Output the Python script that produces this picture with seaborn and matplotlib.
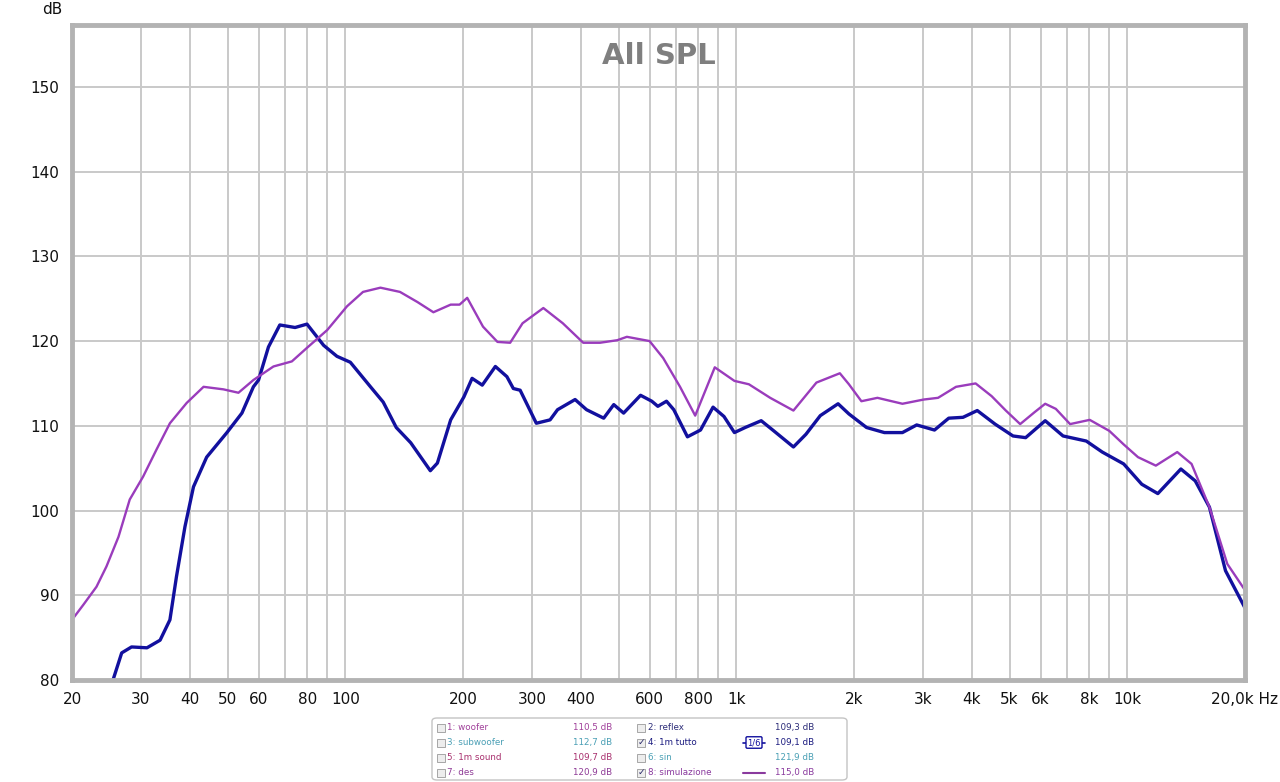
import numpy as np
import pandas as pd
import matplotlib.pyplot as plt
import seaborn as sns
from matplotlib.patches import FancyBboxPatch, Rectangle
from matplotlib.lines import Line2D

sns.set_theme(style="white")
plt.rcParams['font.family'] = ['DejaVu Sans']

# 8: simulazione (purple)
sim_freq = [20, 21.4, 23.1, 24.5, 26.3, 28.1, 30.4, 32.9, 35.6, 39.3, 43.4, 48.8, 53.3, 58.2,
            65.5, 73.0, 79.8, 89.9, 101, 111, 123, 138, 153, 168, 186, 196, 205, 225, 245,
            264, 284, 321, 360, 406, 448, 496, 525, 600, 650, 718, 785, 881, 989, 1077, 1221,
            1400, 1603, 1840, 1941, 2089, 2296, 2660, 3016, 3281, 3647, 4093, 4498, 4890,
            5321, 5790, 6166, 6564, 7140, 8015, 8995, 9790, 10650, 11830, 13420, 14600,
            16220, 18020, 20000]
sim_db = [87.1, 88.9, 91.0, 93.4, 96.9, 101.3, 104.0, 107.2, 110.3, 112.7, 114.6, 114.3, 113.9,
          115.4, 117.0, 117.6, 119.2, 121.3, 124.1, 125.8, 126.3, 125.8, 124.6, 123.4, 124.3,
          124.3, 125.1, 121.7, 119.9, 119.8, 122.1, 123.9, 122.1, 119.8, 119.8, 120.1, 120.5,
          120.0, 118.0, 114.6, 111.2, 116.9, 115.3, 114.9, 113.3, 111.8, 115.1, 116.2, 114.9,
          112.9, 113.3, 112.6, 113.1, 113.3, 114.6, 115.0, 113.5, 111.8, 110.2, 111.6, 112.6,
          112.0, 110.2, 110.7, 109.4, 107.8, 106.3, 105.3, 106.9, 105.5, 100.4, 93.7, 90.6]

# 4: 1m tutto (blue)
tutto_freq = [25.3, 26.8, 28.4, 31.1, 33.6, 35.6, 37.0, 38.9, 40.9, 44.2, 49.8, 54.4, 58.2, 60,
              63.6, 68.0, 74.4, 79.8, 88.0, 95.2, 103, 116, 125, 135, 147, 165, 172, 186, 201,
              211, 224, 242, 259, 269, 280, 308, 334, 349, 387, 414, 458, 486, 515, 569, 608,
              630, 663, 692, 750, 810, 872, 930, 989, 1054, 1158, 1247, 1400, 1507, 1640, 1821,
              1941, 2153, 2392, 2660, 2893, 3213, 3494, 3800, 4133, 4590, 5101, 5496, 6166,
              6850, 7854, 8630, 9790, 10890, 11970, 13710, 14920, 16220, 17830, 20000]
tutto_db = [79.6, 83.2, 83.9, 83.8, 84.7, 87.1, 92.2, 98.1, 102.8, 106.3, 109.2, 111.5, 114.6,
            115.4, 119.3, 121.9, 121.6, 122.0, 119.5, 118.2, 117.5, 114.6, 112.8, 109.8, 108.0,
            104.7, 105.6, 110.7, 113.4, 115.6, 114.8, 117.0, 115.8, 114.4, 114.2, 110.3, 110.7,
            111.9, 113.1, 111.9, 110.9, 112.5, 111.5, 113.6, 112.9, 112.3, 112.9, 111.9, 108.7,
            109.5, 112.2, 111.1, 109.2, 109.8, 110.6, 109.4, 107.5, 109.0, 111.2, 112.6, 111.4,
            109.8, 109.2, 109.2, 110.1, 109.5, 110.9, 111.0, 111.8, 110.2, 108.8, 108.6, 110.6,
            108.8, 108.2, 106.9, 105.5, 103.1, 102.0, 104.9, 103.5, 100.4, 92.9, 88.5]

xtick_vals = [20, 30, 40, 50, 60, 80, 100, 200, 300, 400, 600, 800, 1000, 2000, 3000, 4000,
              5000, 6000, 8000, 10000]
xtick_labels = ['20', '30', '40', '50', '60', '80', '100', '200', '300', '400', '600', '800',
                '1k', '2k', '3k', '4k', '5k', '6k', '8k', '10k']
ytick_vals = [80, 90, 100, 110, 120, 130, 140, 150]

# measurement list under the chart
legend_names = ['1: woofer', '2: reflex', '3: subwoofer', '4: 1m tutto',
                '5: 1m sound', '6: sin', '7: des', '8: simulazione']
legend_values = ['110,5 dB', '109,3 dB', '112,7 dB', '109,1 dB',
                 '109,7 dB', '121,9 dB', '120,9 dB', '115,0 dB']
legend_checked = [False, False, False, True, False, False, False, True]
legend_colors = ['#a0409a', '#2c2c78', '#4a9fb5', '#1c1c80',
                 '#a8306e', '#4aa0b5', '#8e3a96', '#8a3a9e']

fig = plt.figure(figsize=(12.8, 7.82), dpi=100)
ax = fig.add_axes([72 / 1280, 1 - 680 / 782, (1245 - 72) / 1280, (680 - 25) / 782])

ax.set_xscale('log')
ax.set_xlim(20, 20000)
ax.set_ylim(80, 157.3)

# grid: every 1..9 multiple on x, every 10 dB on y
grid_x = [m * 10 ** e for e in range(1, 5) for m in range(1, 10)]
for gx in grid_x:
    if 20 < gx < 20000:
        ax.axvline(gx, color='#c9c9c9', lw=1.4, zorder=0)
for gy in ytick_vals:
    ax.axhline(gy, color='#c9c9c9', lw=1.4, zorder=0)

sns.lineplot(x=tutto_freq, y=tutto_db, ax=ax, color='#12109e', lw=2.4, sort=False,
             estimator=None)
sns.lineplot(x=sim_freq, y=sim_db, ax=ax, color='#9a3cbc', lw=1.7, sort=False,
             estimator=None)

ax.xaxis.set_minor_locator(plt.NullLocator())
ax.set_xticks(xtick_vals)
ax.set_xticklabels(xtick_labels, fontsize=11)
ax.set_yticks(ytick_vals)
ax.set_yticklabels([str(v) for v in ytick_vals], fontsize=11)
ax.tick_params(axis='both', length=0, pad=9, colors='#111111')

for side in ['left', 'right', 'top', 'bottom']:
    ax.spines[side].set_color('#b3b3b3')
    ax.spines[side].set_linewidth(3.5)

ax.text(0.5, 0.953, 'All SPL', transform=ax.transAxes, ha='center', va='center',
        fontsize=21, fontweight='bold', color='#7f7f7f')

fig.text(62 / 1280, 1 - 10 / 782, 'dB', ha='right', va='center', fontsize=11, color='#111111')
fig.text(1278 / 1280, 1 - 700 / 782, '20,0k Hz', ha='right', va='center', fontsize=11,
         color='#111111')

# legend box (pixel coordinates -> figure fraction)
def fx(px):
    return px / 1280

def fy(py):
    return 1 - py / 782

box = FancyBboxPatch((fx(432), fy(780)), fx(847) - fx(432), fy(718) - fy(780),
                     boxstyle='round,pad=0,rounding_size=0.004', transform=fig.transFigure,
                     facecolor='white', edgecolor='#c4c4c4', lw=1.0)
fig.patches.append(box)

row_y = [727.5, 742.5, 757.5, 772.5]
col_check = [437, 637]
col_name = [447, 648]
col_value = [612, 814]
for i, name in enumerate(legend_names):
    row = i // 2
    col = i % 2
    y = row_y[row]
    c = legend_colors[i]
    fig.patches.append(Rectangle((fx(col_check[col]), fy(y + 4)), fx(8), 8 / 782,
                                 transform=fig.transFigure, facecolor='#ededed',
                                 edgecolor='#9a9a9a', lw=0.6))
    if legend_checked[i]:
        fig.text(fx(col_check[col] + 4), fy(y), '\u2713', ha='center', va='center',
                 fontsize=6.5, color='#2a2a6a')
    fig.text(fx(col_name[col]), fy(y), name, ha='left', va='center', fontsize=6.3, color=c)
    fig.text(fx(col_value[col]), fy(y), legend_values[i], ha='right', va='center',
             fontsize=6.3, color=c)

# line style symbols for the shown curves
fig.lines.append(Line2D([fx(743), fx(748)], [fy(742.5), fy(742.5)], transform=fig.transFigure,
                        color='#12109e', lw=1.2))
fig.lines.append(Line2D([fx(760), fx(765)], [fy(742.5), fy(742.5)], transform=fig.transFigure,
                        color='#12109e', lw=1.2))
fig.text(fx(754), fy(742.5), '1/6', ha='center', va='center', fontsize=6, color='#12109e',
         bbox=dict(boxstyle='round,pad=0.15', fc='white', ec='#12109e', lw=1.0))
fig.lines.append(Line2D([fx(743), fx(765)], [fy(772.5), fy(772.5)], transform=fig.transFigure,
                        color='#8a3a9e', lw=1.5))

plt.savefig('out.png', dpi=100)
plt.close()
